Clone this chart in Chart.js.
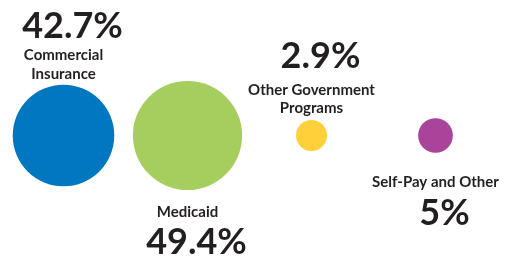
<!DOCTYPE html>
<html><head><meta charset="utf-8">
<script src="https://cdn.jsdelivr.net/npm/chart.js@4/dist/chart.umd.min.js"></script>
<style>html,body{margin:0;padding:0;background:#fff}#wrap{width:509px;height:257px;position:relative}</style>
</head><body><div id="wrap"><canvas id="c" width="509" height="257"></canvas></div>
<script>
const categories = [["Commercial", "Insurance"], ["Medicaid"], ["Other Government", "Programs"], ["Self-Pay and Other"]];
const shares = [42.7, 49.4, 2.9, 5];
const percentLabels = ["42.7%", "49.4%", "2.9%", "5%"];
const colors = ["#0077C0", "#A6CE5F", "#FFD03A", "#A9449A"];

const K = 7.77;          // px per sqrt(percent)
const MIN_R = 15.5;      // minimum bubble radius, px
const TEXT = "#231F20";
// baseline offsets from bubble centre (layout only)
const labelLayout = [
  { pct: -98, names: [-75.5, -56.5] },
  { pct: 118, names: [81] },
  { pct: -68, names: [-40.5, -23] },
  { pct: 89.5, names: [51] }
];

const labelPlugin = {
  id: 'bubbleLabels',
  afterDatasetsDraw(chart) {
    const ctx = chart.ctx;
    const meta = chart.getDatasetMeta(0);
    ctx.save();
    ctx.fillStyle = TEXT;
    ctx.textAlign = 'center';
    ctx.textBaseline = 'alphabetic';
    meta.data.forEach((el, i) => {
      const L = labelLayout[i];
      ctx.font = 'bold 36px Lato';
      ctx.fillText(percentLabels[i], el.x + 9, el.y + L.pct);
      ctx.font = 'bold 15px Lato';
      categories[i].forEach((line, j) => {
        ctx.fillText(line, el.x, el.y + L.names[j]);
      });
    });
    ctx.restore();
  }
};

new Chart(document.getElementById('c'), {
  type: 'bubble',
  data: {
    datasets: [{
      data: shares.map((v, i) => ({ x: i, y: 0 })),
      backgroundColor: colors,
      borderWidth: 0,
      radius: c => Math.max(MIN_R, K * Math.sqrt(shares[c.dataIndex])),
      hoverRadius: 0,
      clip: false
    }]
  },
  options: {
    responsive: false,
    animation: false,
    devicePixelRatio: 1,
    layout: { autoPadding: false, padding: { left: 1.5, right: 11.5, top: 14, bottom: 0 } },
    scales: {
      x: { type: 'linear', min: -0.5, max: 3.5, display: false },
      y: { type: 'linear', min: -1, max: 1, display: false }
    },
    plugins: { legend: { display: false }, tooltip: { enabled: false } }
  },
  plugins: [labelPlugin]
});
</script>
</body></html>
